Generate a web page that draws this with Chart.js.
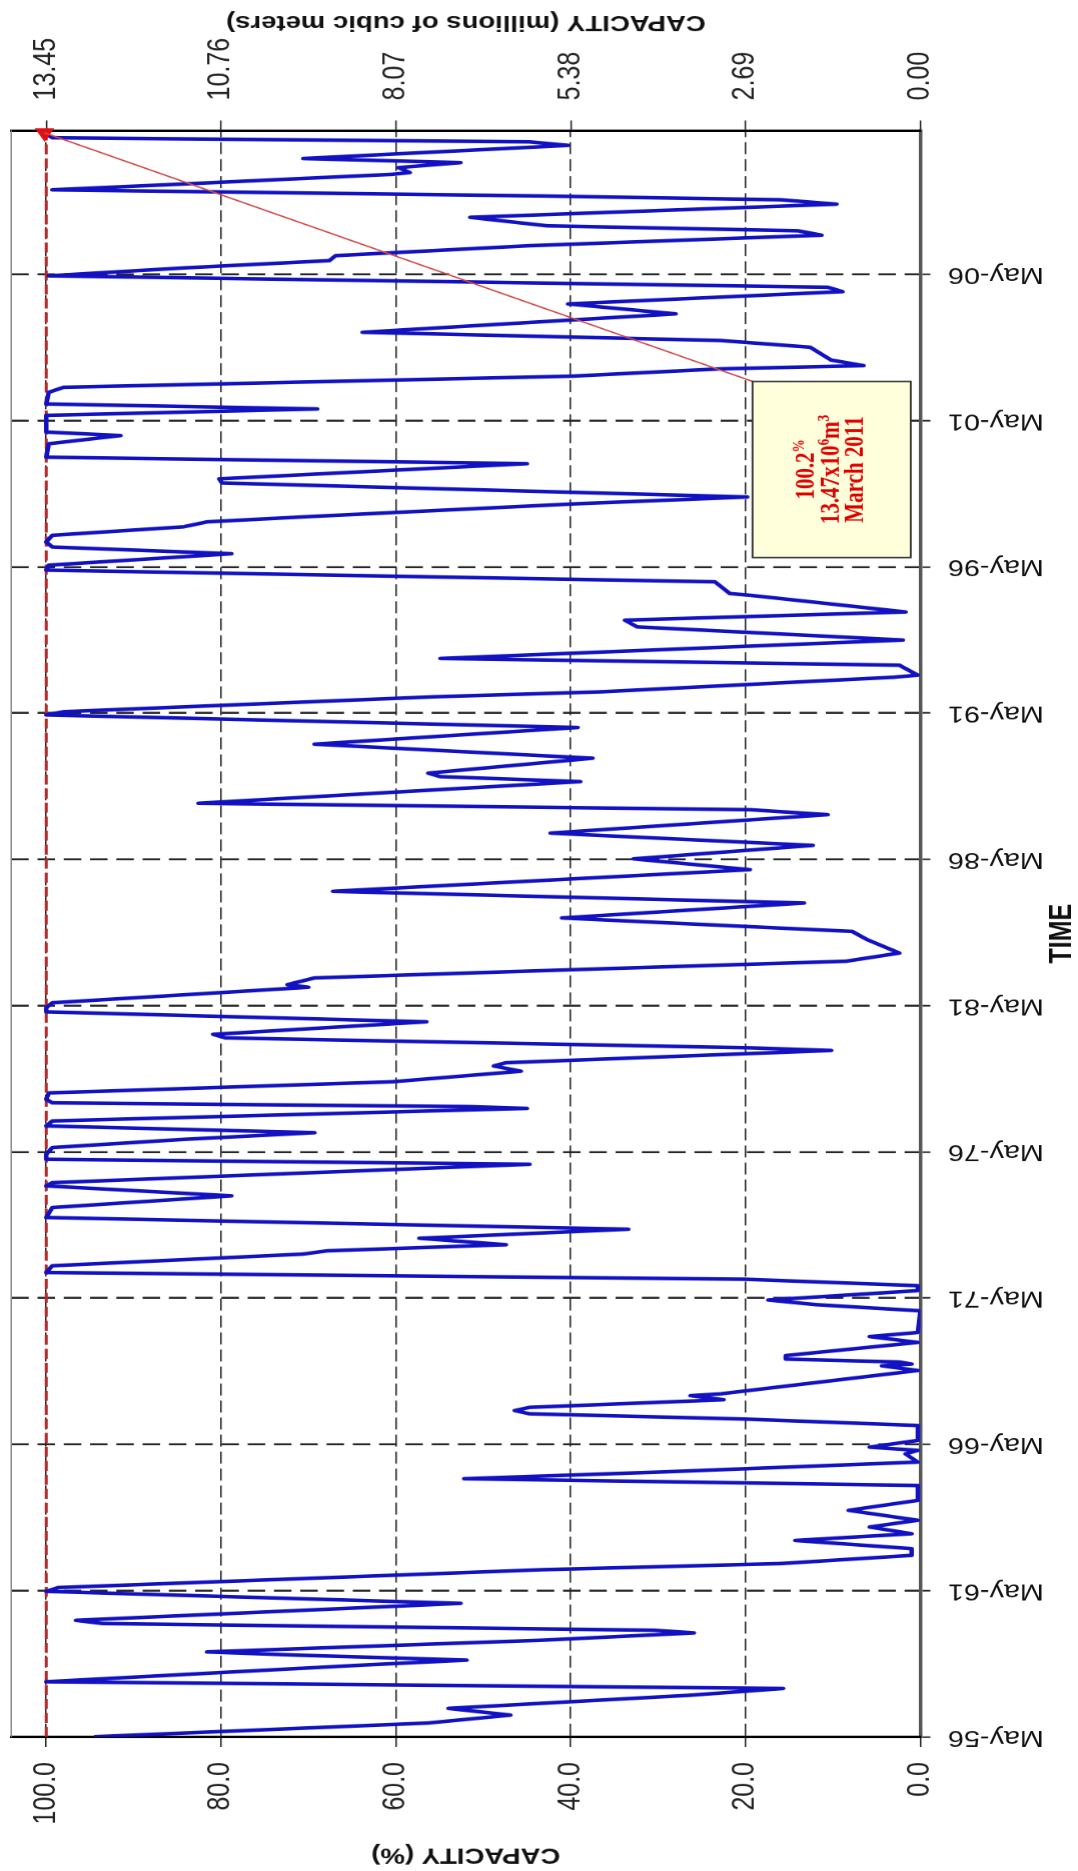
<!DOCTYPE html>
<html>
<head>
<meta charset="utf-8">
<title>Reservoir storage 1956-2011</title>
<script src="https://cdn.jsdelivr.net/npm/chart.js@4.4.1/dist/chart.umd.min.js"></script>
<style>
  html, body { margin: 0; padding: 0; background: #fff; }
  body { width: 1078px; height: 1871px; overflow: hidden; position: relative; }
  /* chart is laid out landscape, then turned a quarter and stretched to fit the page */
  #frame {
    position: absolute; left: 0; top: 0;
    width: 1871px; height: 862px;
    transform-origin: 0 0;
    transform: translate(0, 1871px) rotate(-90deg) scale(1, 1.2506);
  }
</style>
</head>
<body>
<div id="frame"><canvas id="storage" width="1871" height="862"></canvas></div>
<script>
// reading dates as decimal years
const years = [
  1956.34, 1956.81, 1957.08, 1957.31, 1957.76, 1957.99, 1958.22, 1958.79, 1958.96, 1959.13,
  1959.24, 1959.64, 1959.89, 1959.98, 1960.21, 1960.32, 1960.90, 1961.31, 1961.44, 1961.86,
  1962.05, 1962.26, 1962.54, 1962.77, 1963.05, 1963.28, 1963.51, 1963.74, 1964.08, 1964.42,
  1964.93, 1965.16, 1965.39, 1965.73, 1966.01, 1966.13, 1966.24, 1966.47, 1966.98, 1967.20,
  1967.38, 1967.49, 1967.60, 1967.86, 1968.00, 1968.06, 1968.86, 1969.02, 1969.08, 1969.15,
  1969.25, 1969.37, 1969.82, 1970.02, 1970.16, 1970.90, 1971.11, 1971.27, 1971.59, 1971.76,
  1971.98, 1972.21, 1972.44, 1972.84, 1972.95, 1973.16, 1973.38, 1973.69, 1974.09, 1974.43,
  1974.83, 1975.17, 1975.28, 1975.91, 1976.08, 1976.25, 1976.48, 1976.76, 1976.99, 1977.22,
  1977.39, 1977.82, 1977.88, 1978.01, 1978.13, 1978.35, 1978.41, 1978.73, 1979.09, 1979.27,
  1979.38, 1979.80, 1979.89, 1980.23, 1980.35, 1980.78, 1981.12, 1981.26, 1981.43, 1981.96,
  1982.05, 1982.28, 1982.56, 1982.85, 1983.13, 1983.59, 1983.87, 1984.33, 1984.84, 1985.24,
  1985.98, 1986.35, 1986.81, 1987.23, 1987.86, 1988.03, 1988.25, 1988.99, 1989.16, 1989.28,
  1989.79, 1990.27, 1990.84, 1991.27, 1991.38, 1991.89, 1992.06, 1992.56, 1992.63, 1992.97,
  1993.20, 1993.83, 1994.28, 1994.51, 1994.79, 1995.36, 1995.42, 1995.82, 1996.22, 1996.39,
  1996.78, 1997.01, 1997.18, 1997.41, 1997.70, 1997.87, 1998.04, 1998.49, 1998.72, 1999.20,
  1999.34, 1999.86, 2000.08, 2000.54, 2000.82, 2000.94, 2001.28, 2001.51, 2001.73, 2001.90,
  2002.30, 2002.47, 2002.85, 2003.10, 2003.21, 2003.40, 2003.84, 2004.07, 2004.35, 2004.98,
  2005.32, 2005.74, 2005.89, 2006.28, 2006.55, 2006.80, 2006.97, 2007.31, 2007.67, 2007.82,
  2007.99, 2008.28, 2008.73, 2008.88, 2009.01, 2009.22, 2009.41, 2009.75, 2009.81, 2009.98,
  2010.15, 2010.29, 2010.74, 2010.86, 2011.00, 2011.17
];

// storage as % of full capacity
const capacityPct = [
  94.5, 56.3, 46.9, 54.0, 26.3, 15.7, 100.0, 63.8, 51.9, 71.3,
  81.6, 43.3, 25.9, 30.4, 93.5, 96.6, 52.6, 100.0, 98.6, 60.4,
  43.3, 16.0, 1.0, 1.0, 14.3, 1.0, 5.8, 0.3, 8.2, 0.3,
  0.3, 52.2, 29.7, 0.3, 1.7, 0.3, 5.8, 0.3, 0.3, 20.1,
  44.7, 46.4, 44.7, 22.5, 26.3, 22.9, 0.3, 4.4, 1.0, 2.4,
  15.4, 15.4, 0.3, 5.8, 0.3, 0.0, 11.9, 17.4, 0.3, 0.3,
  20.1, 100.0, 99.3, 70.6, 67.9, 47.4, 57.3, 33.4, 100.0, 99.3,
  78.8, 100.0, 99.3, 44.7, 100.0, 100.0, 99.3, 84.3, 69.3, 100.0,
  99.3, 45.0, 51.5, 99.3, 100.0, 99.7, 93.2, 60.4, 45.7, 48.8,
  47.4, 10.2, 19.5, 79.5, 80.9, 56.5, 100.0, 100.0, 99.3, 70.0,
  72.4, 69.3, 39.9, 8.5, 2.4, 6.1, 7.8, 41.0, 13.3, 67.2,
  19.5, 32.8, 12.3, 42.3, 10.6, 19.5, 82.6, 38.9, 54.9, 56.3,
  37.5, 69.3, 39.2, 100.0, 98.0, 55.6, 36.5, 3.0, 0.3, 2.4,
  54.9, 2.0, 32.4, 33.8, 1.7, 19.5, 21.8, 23.5, 100.0, 99.7,
  78.8, 99.3, 100.0, 99.3, 84.3, 81.6, 70.6, 39.2, 19.8, 79.9,
  80.2, 45.0, 100.0, 99.7, 91.5, 100.0, 100.0, 100.0, 69.0, 100.0,
  99.7, 98.0, 39.9, 22.9, 6.5, 10.2, 12.6, 22.9, 63.8, 28.0,
  40.3, 8.9, 10.6, 99.7, 84.3, 67.6, 66.9, 44.7, 11.3, 14.0,
  42.7, 51.5, 9.6, 16.0, 43.3, 99.3, 85.0, 60.4, 58.4, 59.7,
  52.6, 70.6, 40.3, 44.7, 99.3, 100.2
];

const pctTicks = [0, 20, 40, 60, 80, 100];
const mcmTicks = [0.00, 2.69, 5.38, 8.07, 10.76, 13.45];
const tickYears = [1956.333, 1961.333, 1966.333, 1971.333, 1976.333, 1981.333,
                   1986.333, 1991.333, 1996.333, 2001.333, 2006.333];
const tickLabels = ['May-56', 'May-61', 'May-66', 'May-71', 'May-76', 'May-81',
                    'May-86', 'May-91', 'May-96', 'May-01', 'May-06'];
const lastMcm = 13.47;
const lastLabel = 'March 2011';

const fullMcm = mcmTicks[mcmTicks.length - 1];   // 100 % of capacity
const pctMax = 104;
const timeMax = 2011.25;

const points = years.map((t, i) => ({ x: t, y: capacityPct[i] }));
const last = points[points.length - 1];

Chart.defaults.font.family = '"Liberation Sans", Arial, sans-serif';

// frame edge, note box with leader, secondary axis title
const notePlugin = {
  id: 'note',
  beforeDatasetsDraw(chart) {
    const { ctx, chartArea: a } = chart;
    ctx.save();
    ctx.strokeStyle = '#8a8a8a';
    ctx.lineWidth = 1.2;
    ctx.beginPath();
    ctx.moveTo(a.left, a.top);
    ctx.lineTo(a.right, a.top);
    ctx.stroke();
    ctx.restore();
  },
  afterDatasetsDraw(chart) {
    const { ctx, scales: { x, y } } = chart;
    const bx0 = x.getPixelForValue(1996.65), bx1 = x.getPixelForValue(2002.67);
    const by0 = y.getPixelForValue(19.2), by1 = y.getPixelForValue(1.1);

    ctx.save();
    // leader from the last reading
    ctx.strokeStyle = '#d24a4a';
    ctx.lineWidth = 1.4;
    ctx.beginPath();
    ctx.moveTo(x.getPixelForValue(last.x), y.getPixelForValue(last.y));
    ctx.lineTo(bx1, by0);
    ctx.stroke();

    ctx.fillStyle = '#ffffdc';
    ctx.fillRect(bx0, by0, bx1 - bx0, by1 - by0);
    ctx.strokeStyle = '#333';
    ctx.lineWidth = 1.5;
    ctx.strokeRect(bx0, by0, bx1 - bx0, by1 - by0);

    const cx = (bx0 + bx1) / 2, cy = (by0 + by1) / 2;
    ctx.fillStyle = '#e00000';
    ctx.textBaseline = 'middle';
    ctx.textAlign = 'left';
    const rich = (parts, yy) => {
      const fontFor = sup => sup ? 'bold 13px "Liberation Serif", serif' : 'bold 21px "Liberation Serif", serif';
      const widths = parts.map(([t, sup]) => { ctx.font = fontFor(sup); return ctx.measureText(t).width; });
      let xx = cx - widths.reduce((s, w) => s + w, 0) / 2;
      parts.forEach(([t, sup], i) => {
        ctx.font = fontFor(sup);
        ctx.fillText(t, xx, sup ? yy - 6 : yy);
        xx += widths[i];
      });
    };
    rich([[last.y.toFixed(1), 0], ['%', 1]], cy - 20);
    rich([[lastMcm.toFixed(2) + 'x10', 0], ['6', 1], ['m', 0], ['3', 1]], cy);
    rich([[lastLabel, 0]], cy + 19.5);
    ctx.restore();
  },
  afterDraw(chart) {
    const { ctx, chartArea: a } = chart;
    ctx.save();
    ctx.translate(chart.width - 23, (a.top + a.bottom) / 2);
    ctx.rotate(-Math.PI / 2);
    ctx.font = 'bold 22px "Liberation Sans", Arial, sans-serif';
    ctx.fillStyle = '#111';
    ctx.textAlign = 'center';
    ctx.textBaseline = 'middle';
    ctx.fillText('CAPACITY (millions of cubic meters)', 0, 0);
    ctx.restore();
  }
};

const config = {
  type: 'line',
  data: {
    datasets: [
      {
        label: 'Capacity',
        data: points,
        borderColor: '#1212c2',
        borderWidth: 3.6,
        borderJoinStyle: 'round',
        pointRadius: 0,
        tension: 0,
        order: 1
      },
      {
        label: 'Full',
        data: [{ x: tickYears[0], y: 100 }, { x: timeMax, y: 100 }],
        borderColor: '#b22a2a',
        borderWidth: 2.4,
        borderDash: [10, 4],
        pointRadius: 0,
        order: 2
      },
      {
        label: lastLabel,
        data: [last],
        showLine: false,
        pointStyle: 'triangle',
        rotation: -90,
        pointRadius: 8,
        backgroundColor: '#e01010',
        borderColor: '#e01010',
        clip: false,
        order: 0
      }
    ]
  },
  options: {
    responsive: false,
    animation: false,
    devicePixelRatio: 1.25,
    layout: { padding: { top: 8.8, left: 0, right: 0, bottom: 0 } },
    plugins: { legend: { display: false }, tooltip: { enabled: false } },
    scales: {
      x: {
        type: 'linear',
        position: 'bottom',
        min: tickYears[0],
        max: timeMax,
        afterBuildTicks: s => { s.ticks = tickYears.map(v => ({ value: v })); },
        afterFit: s => { s.height = 126.4; s.paddingLeft = 0; s.paddingRight = 0; },
        ticks: {
          autoSkip: false, maxRotation: 90, minRotation: 90, padding: 14,
          color: '#111', font: { size: 23 },
          callback: (v, i) => tickLabels[i]
        },
        grid: { color: '#262626', lineWidth: 2, tickLength: 8, tickColor: '#262626', tickWidth: 1.6 },
        border: { color: '#555', width: 2.8, dash: [14, 7] },
        title: {
          display: true, text: 'TIME', color: '#111',
          font: { size: 25, weight: 'bold', lineHeight: 1 },
          padding: { top: 0, bottom: 0 }
        }
      },
      y: {
        position: 'left',
        min: 0,
        max: pctMax,
        afterBuildTicks: s => { s.ticks = pctTicks.map(v => ({ value: v })); },
        afterFit: s => { s.width = 134; s.paddingTop = 0; s.paddingBottom = 0; },
        ticks: { padding: 15, color: '#222', font: { size: 25 }, callback: v => v.toFixed(1) },
        grid: { color: '#222', lineWidth: 1.2, tickLength: 10, tickColor: '#222', tickWidth: 1.2 },
        border: { color: '#000', width: 2.5, dash: [12, 5] },
        title: {
          display: true, text: 'CAPACITY (%)', color: '#111',
          font: { size: 22, weight: 'bold', lineHeight: 1 },
          padding: { top: 5, bottom: 0 }
        }
      },
      y2: {
        position: 'right',
        min: 0,
        max: pctMax * fullMcm / 100,
        afterBuildTicks: s => { s.ticks = mcmTicks.map(v => ({ value: v })); },
        afterFit: s => { s.width = 131; s.paddingTop = 0; s.paddingBottom = 0; },
        ticks: { padding: 20, color: '#222', font: { size: 25 }, callback: v => v.toFixed(2) },
        grid: { drawOnChartArea: false, color: '#222', tickLength: 10, tickWidth: 1.2 },
        border: { color: '#000', width: 2.5 }
      }
    }
  },
  plugins: [notePlugin]
};

const storageChart = new Chart(document.getElementById('storage'), config);
</script>
</body>
</html>
